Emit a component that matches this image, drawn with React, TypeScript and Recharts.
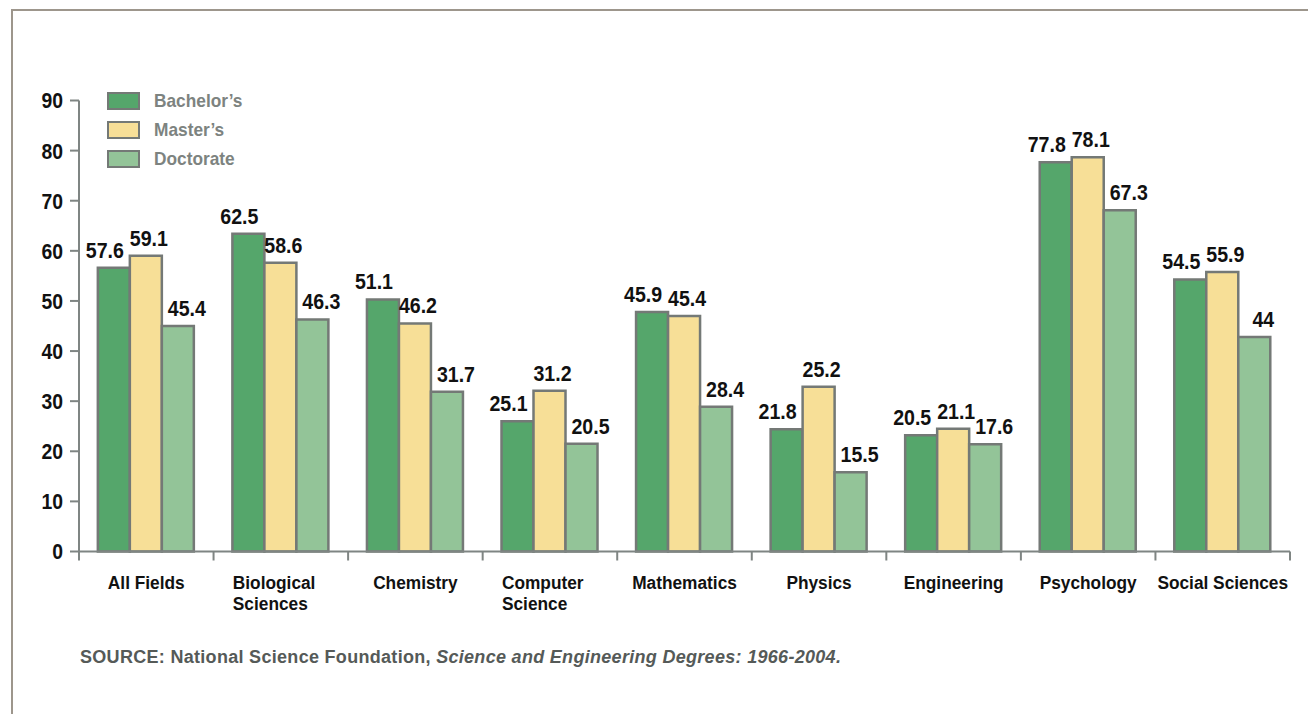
import React from "react";
import { BarChart, Bar, XAxis, YAxis, LabelList, Legend } from "recharts";

const categories = [
  "All Fields",
  "Biological Sciences",
  "Chemistry",
  "Computer Science",
  "Mathematics",
  "Physics",
  "Engineering",
  "Psychology",
  "Social Sciences",
];
const tickLines = [
  ["All Fields"],
  ["Biological", "Sciences"],
  ["Chemistry"],
  ["Computer", "Science"],
  ["Mathematics"],
  ["Physics"],
  ["Engineering"],
  ["Psychology"],
  ["Social Sciences"],
];
// bar heights as drawn
const bachelors = [56.6, 63.4, 50.3, 26.0, 47.8, 24.4, 23.2, 77.7, 54.3];
const masters = [59.0, 57.6, 45.5, 32.1, 47.0, 32.9, 24.5, 78.7, 55.8];
const doctorate = [45.0, 46.3, 31.9, 21.5, 28.9, 15.8, 21.4, 68.1, 42.8];
// printed value labels
const bachelorsLabels = ["57.6", "62.5", "51.1", "25.1", "45.9", "21.8", "20.5", "77.8", "54.5"];
const mastersLabels = ["59.1", "58.6", "46.2", "31.2", "45.4", "25.2", "21.1", "78.1", "55.9"];
const doctorateLabels = ["45.4", "46.3", "31.7", "20.5", "28.4", "15.5", "17.6", "67.3", "44"];
const seriesNames = ["Bachelor’s", "Master’s", "Doctorate"];
const seriesColors = ["#55a66b", "#f7df97", "#93c498"];
const yTicks = [0, 10, 20, 30, 40, 50, 60, 70, 80, 90];

const data = categories.map((c, i) => ({
  name: c,
  b: bachelors[i],
  m: masters[i],
  d: doctorate[i],
  bl: bachelorsLabels[i],
  ml: mastersLabels[i],
  dl: doctorateLabels[i],
}));

const FONT = "'Liberation Sans', Arial, Helvetica, sans-serif";
const AXIS = "#7f8583";
const STROKE = "#747976";

const CategoryTick = (props: any) => {
  const { x, y, payload, index, visibleTicksCount, width } = props;
  const idx = categories.indexOf(payload.value);
  const lines = tickLines[idx] ?? [payload.value];
  const multi = lines.length > 1;
  const count = visibleTicksCount || categories.length;
  const half = payload.offset > 0 ? payload.offset : width / count / 2;
  const tx = multi ? x - 48 : x;
  return (
    <g>
      <line x1={x - half} x2={x - half} y1={y} y2={y + 9} stroke={AXIS} strokeWidth={2} />
      {index === count - 1 && (
        <line x1={x + half} x2={x + half} y1={y} y2={y + 9} stroke={AXIS} strokeWidth={2} />
      )}
      <g transform={`translate(${tx},${y + 37}) scale(0.91,1)`}>
        <text
          x={0}
          y={0}
          textAnchor={multi ? "start" : "middle"}
          fontFamily={FONT}
          fontWeight="bold"
          fontSize={19}
          fill="#111"
        >
          {lines.map((l: string, i: number) => (
            <tspan key={i} x={0} dy={i === 0 ? 0 : 22}>
              {l}
            </tspan>
          ))}
        </text>
      </g>
    </g>
  );
};

const ValueTick = (props: any) => {
  const { x, y, payload } = props;
  return (
    <text
      transform={`translate(${x},${y}) scale(0.88,1)`}
      x={0}
      y={0}
      dy="0.36em"
      textAnchor="end"
      fontFamily={FONT}
      fontWeight="bold"
      fontSize={22}
      fill="#111"
    >
      {payload.value}
    </text>
  );
};

const makeBarLabel = (dx: number) => (props: any) => {
  const { x, y, width, value } = props;
  return (
    <text
      transform={`translate(${x + width / 2 + dx},${y - 10}) scale(0.89,1)`}
      x={0}
      y={0}
      textAnchor="middle"
      fontFamily={FONT}
      fontWeight="bold"
      fontSize={22}
      fill="#111"
    >
      {value}
    </text>
  );
};
const BachelorLabel = makeBarLabel(-9);
const MasterLabel = makeBarLabel(3);
const DoctorateLabel = makeBarLabel(9);

const renderLegend = () => (
  <div>
    {seriesNames.map((name, i) => (
      <div key={i} style={{ display: "flex", alignItems: "center", height: 29 }}>
        <div
          style={{
            width: 33,
            height: 18,
            boxSizing: "border-box",
            border: `2px solid ${STROKE}`,
            background: seriesColors[i],
            flex: "none",
          }}
        />
        <span
          style={{
            display: "inline-block",
            marginLeft: 14,
            fontFamily: FONT,
            fontWeight: "bold",
            fontSize: 19,
            color: "#7d8380",
            lineHeight: "20px",
            whiteSpace: "nowrap",
            transform: "scaleX(0.91)",
            transformOrigin: "left center",
          }}
        >
          {name}
        </span>
      </div>
    ))}
  </div>
);

export default function App() {
  return (
    <div style={{ position: "absolute", left: 0, top: 0, width: 1308, height: 714, background: "#fff", overflow: "hidden" }}>
      <div
        style={{
          position: "absolute",
          left: 11,
          top: 9,
          width: 1400,
          height: 800,
          borderLeft: "2px solid #9d968c",
          borderTop: "2px solid #9d968c",
        }}
      />
      <div style={{ position: "absolute", left: 0, top: 0 }}>
        <BarChart
          width={1308}
          height={714}
          data={data}
          margin={{ top: 100.5, right: 18, bottom: 161.5, left: 0 }}
          barCategoryGap="14%"
          barGap={0}
        >
          <XAxis
            dataKey="name"
            height={1}
            axisLine={{ stroke: AXIS, strokeWidth: 2 }}
            tickLine={false}
            tickSize={0}
            tickMargin={0}
            tick={<CategoryTick />}
            interval={0}
          />
          <YAxis
            width={79}
            domain={[0, 90]}
            ticks={yTicks}
            interval={0}
            axisLine={{ stroke: AXIS, strokeWidth: 2 }}
            tickLine={{ stroke: AXIS, strokeWidth: 2 }}
            tickSize={9}
            tickMargin={7}
            tick={<ValueTick />}
          />
          <Legend
            layout="horizontal"
            verticalAlign="middle"
            align="center"
            wrapperStyle={{ left: 107, top: 86, width: 200 }}
            content={renderLegend}
          />
          <Bar dataKey="b" name={seriesNames[0]} fill={seriesColors[0]} stroke={STROKE} strokeWidth={2.5} isAnimationActive={false}>
            <LabelList dataKey="bl" content={<BachelorLabel />} />
          </Bar>
          <Bar dataKey="m" name={seriesNames[1]} fill={seriesColors[1]} stroke={STROKE} strokeWidth={2.5} isAnimationActive={false}>
            <LabelList dataKey="ml" content={<MasterLabel />} />
          </Bar>
          <Bar dataKey="d" name={seriesNames[2]} fill={seriesColors[2]} stroke={STROKE} strokeWidth={2.5} isAnimationActive={false}>
            <LabelList dataKey="dl" content={<DoctorateLabel />} />
          </Bar>
        </BarChart>
      </div>
      <div
        style={{
          position: "absolute",
          left: 80,
          top: 647,
          fontFamily: FONT,
          fontWeight: "bold",
          fontSize: 18,
          letterSpacing: 0.3,
          color: "#555a58",
          whiteSpace: "nowrap",
        }}
      >
        SOURCE: National Science Foundation, <i>Science and Engineering Degrees: 1966-2004.</i>
      </div>
    </div>
  );
}
